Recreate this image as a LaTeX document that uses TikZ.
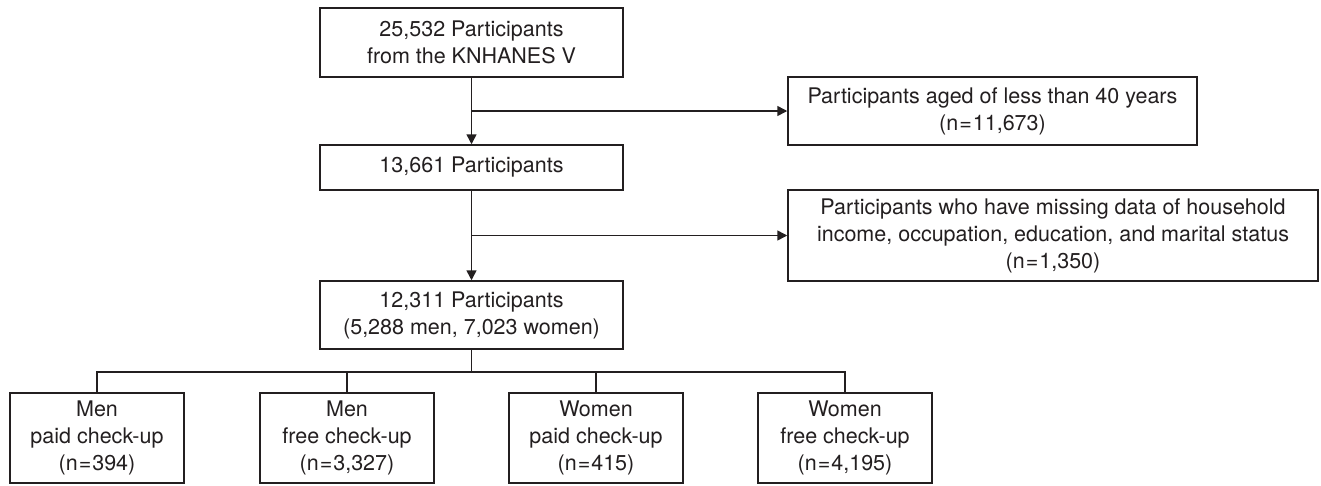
\documentclass[tikz,border=0pt]{standalone}
\usepackage{fontspec}
\setmainfont{TeX Gyre Heros}
\usetikzlibrary{arrows.meta}
\definecolor{ink}{HTML}{231F20}
\begin{document}
\begin{tikzpicture}[x=1pt,y=-1pt,
  box/.style={draw=ink,line width=1.5pt,rectangle,inner sep=0pt,align=center,text=ink,
    font=\fontsize{21.5}{27}\selectfont},
  link/.style={draw=ink,line width=1.5pt},
  arr/.style={link,-{Triangle[length=10pt,width=10pt]}}]
\fill[white] (0,0) rectangle (1321,485);
\useasboundingbox (0,0) rectangle (1321,485);
\node[box,minimum width=303pt,minimum height=69pt] (b1) at (471.5,42.5) {25,532 Participants\\from the KNHANES V};
\node[box,minimum width=303pt,minimum height=45pt] (b2) at (471.5,167.5) {13,661 Participants};
\node[box,minimum width=303pt,minimum height=68pt] (b3) at (471.5,315) {12,311 Participants\\(5,288 men, 7,023 women)};
\node[box,minimum width=409pt,minimum height=68pt] (r1) at (992.5,111) {Participants aged of less than 40 years\\(n\kern1pt=\kern1pt11,673)};
\node[box,minimum width=530pt,minimum height=91pt] (r2) at (1053,235.5) {Participants who have missing data of household\\income, occupation, education, and marital status\\(n\kern1pt=\kern1pt1,350)};
\node[box,minimum width=174pt,minimum height=90pt] (m1) at (97,438) {Men\\paid check-up\\(n\kern1pt=\kern1pt394)};
\node[box,minimum width=174pt,minimum height=90pt] (m2) at (347,438) {Men\\free check-up\\(n\kern1pt=\kern1pt3,327)};
\node[box,minimum width=174pt,minimum height=90pt] (w1) at (596,438) {Women\\paid check-up\\(n\kern1pt=\kern1pt415)};
\node[box,minimum width=174pt,minimum height=90pt] (w2) at (845,438) {Women\\free check-up\\(n\kern1pt=\kern1pt4,195)};
\coordinate (j1) at (471.5,111);
\coordinate (j2) at (471.5,235.5);
\coordinate (bus) at (471.5,372);
\draw[arr] (b1.south) -- (b2.north);
\draw[arr] (j1) -- (r1.west);
\draw[arr] (b2.south) -- (b3.north);
\draw[arr] (j2) -- (r2.west);
\draw[link] (b3.south) -- (bus);
\draw[link] (m1.north) |- (w2.north |- bus) -- (w2.north);
\draw[link] (m2.north) -- (m2.north |- bus);
\draw[link] (w1.north) -- (w1.north |- bus);
\end{tikzpicture}
\end{document}
